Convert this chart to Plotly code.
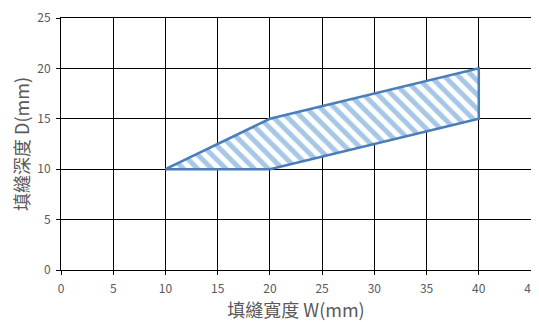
import plotly.graph_objects as go

# 填縫寬度 W (mm) / 填縫深度 D (mm) 區域頂點
width_mm = [10, 20, 40, 40, 20, 10]
depth_mm = [10, 15, 20, 15, 10, 10]

x_ticks = [0, 5, 10, 15, 20, 25, 30, 35, 40, 45]
y_ticks = [0, 5, 10, 15, 20, 25]

fig = go.Figure()
fig.add_trace(
    go.Scatter(
        x=width_mm,
        y=depth_mm,
        mode="lines",
        fill="toself",
        fillcolor="rgba(255,255,255,0)",
        fillpattern=dict(shape="\\", fgcolor="#4f8fd0", bgcolor="white",
                         size=10, solidity=0.5),
        line=dict(color="#4a7ebb", width=2.5),
        showlegend=False,
        hoverinfo="skip",
    )
)

axis_common = dict(
    showgrid=True,
    gridcolor="black",
    gridwidth=1,
    showline=True,
    linecolor="black",
    linewidth=1,
    ticks="outside",
    ticklen=4,
    tickcolor="black",
    zeroline=False,
    automargin=False,
    tickfont=dict(size=12, color="#595959"),
)

# 頁面 body 有 8px 邊距，所以畫布縮小 8px
fig.update_layout(
    width=531,
    height=314,
    margin=dict(l=53, r=8, t=10, b=52),
    paper_bgcolor="white",
    plot_bgcolor="white",
    font=dict(family="Noto Sans CJK TC, Liberation Sans, sans-serif", color="#595959"),
    xaxis=dict(
        range=[0, 45],
        tickvals=x_ticks,
        ticklabelstandoff=4,
        title=dict(text="填縫寬度 W(mm)", font=dict(size=18, color="#595959"), standoff=7),
        mirror=True,
        **axis_common,
    ),
    yaxis=dict(
        range=[0, 25],
        tickvals=y_ticks,
        ticklabelstandoff=3,
        title=dict(text="填縫深度 D(mm)", font=dict(size=18, color="#595959"), standoff=6),
        mirror=True,
        **axis_common,
    ),
)

fig.write_html("out.html")
